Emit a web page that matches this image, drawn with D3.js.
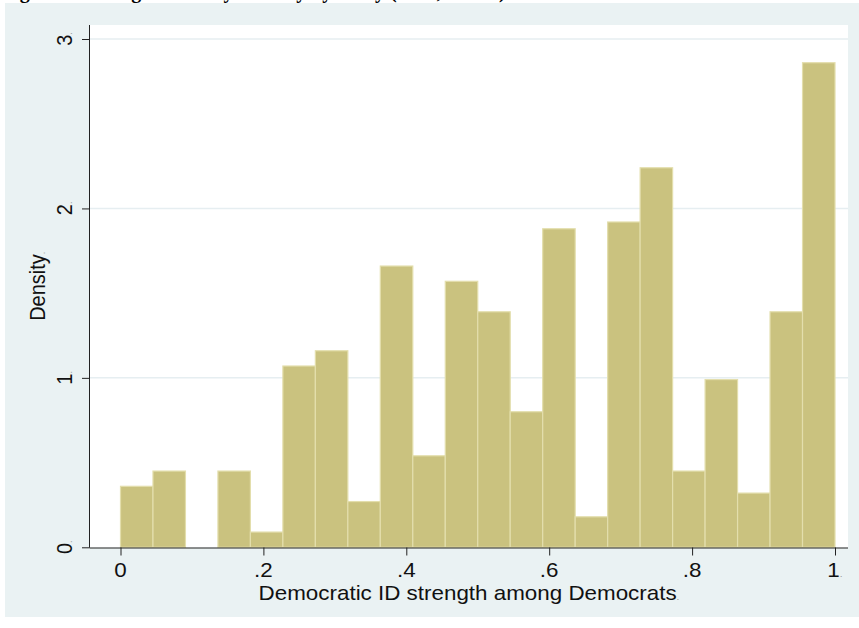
<!DOCTYPE html>
<html>
<head>
<meta charset="utf-8">
<script src="https://cdn.jsdelivr.net/npm/d3@7"></script>
<style>
  body { margin: 0; background: #ffffff; }
  svg { display: block; }
</style>
</head>
<body>
<div id="chart"></div>
<script>
// histogram bins (width 1/22) and density heights
const binStarts = d3.range(22).map((i) => i / 22);
const densities = [
  0.36, 0.45, 0, 0.45, 0.09, 1.07, 1.16, 0.27, 1.66, 0.54, 1.57,
  1.39, 0.80, 1.88, 0.18, 1.92, 2.24, 0.45, 0.99, 0.32, 1.39, 2.86,
];
const xTicks = [0, 0.2, 0.4, 0.6, 0.8, 1];
const xTickLabels = ["0", ".2", ".4", ".6", ".8", "1"];
const yTicks = [0, 1, 2, 3];
const yTickLabels = ["0", "1", "2", "3"];

const width = 859,
  height = 628;
const plot = { left: 90, right: 848, top: 25, bottom: 547.5 };
const font = "'Liberation Sans', Arial, sans-serif";
const fontSize = "20px";
const stretch = 1.12; // text in the picture is a little wider than tall

const svg = d3
  .select("#chart")
  .append("svg")
  .attr("width", width)
  .attr("height", height);

// title, cut off above the visible area
svg
  .append("text")
  .attr("x", 2)
  .attr("y", -2)
  .style("font-family", "'Liberation Serif', serif")
  .style("font-weight", "bold")
  .style("font-size", "20px")
  .attr("fill", "#000")
  .text("Figure 3: Strength of Party Identity by Party (2008, ANES)");

// outer graph region
svg
  .append("rect")
  .attr("x", 5)
  .attr("y", 3)
  .attr("width", width - 5)
  .attr("height", 614)
  .attr("fill", "#eaf2f3");

// plot region
svg
  .append("rect")
  .attr("x", plot.left)
  .attr("y", plot.top)
  .attr("width", plot.right - plot.left)
  .attr("height", plot.bottom - plot.top)
  .attr("fill", "#ffffff");

const x = d3.scaleLinear().domain([0, 1]).range([120.5, 835]);
const y = d3.scaleLinear().domain([0, 3]).range([547.3, 39]);

// gridlines
svg
  .append("g")
  .selectAll("line")
  .data(yTicks.filter((d) => d > 0))
  .join("line")
  .attr("x1", plot.left)
  .attr("x2", plot.right)
  .attr("y1", (d) => y(d))
  .attr("y2", (d) => y(d))
  .attr("stroke", "#e6eef1")
  .attr("stroke-width", 1.5);

// bars
const binW = 1 / 22;
svg
  .append("g")
  .selectAll("rect")
  .data(binStarts.map((b, i) => ({ b, d: densities[i] })).filter((o) => o.d > 0))
  .join("rect")
  .attr("x", (o) => x(o.b))
  .attr("width", (o) => x(o.b + binW) - x(o.b))
  .attr("y", (o) => y(o.d))
  .attr("height", (o) => y(0) - y(o.d))
  .attr("fill", "#cac27f")
  .attr("stroke", "#e3deac")
  .attr("stroke-width", 1.2);

// small grey dot that trails some labels in the original
function addLabel(sel, txt, dot) {
  sel.text(txt);
  if (dot) {
    sel.append("tspan").style("font-size", "9px").attr("fill", "#999").text(".");
  }
}

// axes
const xAxis = d3
  .axisBottom(x)
  .tickValues(xTicks)
  .tickFormat("")
  .tickSize(8);

const gx = svg
  .append("g")
  .attr("transform", `translate(0, ${plot.bottom})`)
  .call(xAxis);
gx.select(".domain")
  .attr("d", `M${plot.left},0.5H${plot.right}`)
  .attr("stroke", "#222");
gx.selectAll(".tick line").attr("stroke", "#222");

svg
  .append("g")
  .selectAll("text")
  .data(xTicks)
  .join("text")
  .attr("transform", (d) => `translate(${x(d)}, 577) scale(${stretch}, 1)`)
  .attr("text-anchor", "middle")
  .style("font-family", font)
  .style("font-size", fontSize)
  .attr("fill", "#111")
  .each(function (d, i) {
    addLabel(d3.select(this), xTickLabels[i], d === 1);
  });

const yAxis = d3.axisLeft(y).tickValues(yTicks).tickFormat("").tickSize(8);

const gy = svg
  .append("g")
  .attr("transform", `translate(${plot.left}, 0)`)
  .call(yAxis);
gy.select(".domain")
  .attr("d", `M-0.5,${plot.top}V${plot.bottom}`)
  .attr("stroke", "#222");
gy.selectAll(".tick line").attr("stroke", "#222");

// rotated y tick labels
svg
  .append("g")
  .selectAll("text")
  .data(yTicks)
  .join("text")
  .attr("transform", (d) => `translate(72, ${y(d)}) scale(${stretch}, 1) rotate(-90)`)
  .attr("text-anchor", "middle")
  .style("font-family", font)
  .style("font-size", fontSize)
  .attr("fill", "#111")
  .each(function (d, i) {
    addLabel(d3.select(this), yTickLabels[i], true);
  });

// axis titles
svg
  .append("text")
  .attr("transform", `translate(${(plot.left + plot.right) / 2}, 600) scale(${stretch}, 1)`)
  .attr("text-anchor", "middle")
  .style("font-family", font)
  .style("font-size", fontSize)
  .attr("fill", "#111")
  .call(addLabel, "Democratic ID strength among Democrats", true);

svg
  .append("text")
  .attr("transform", `translate(45, ${(plot.top + plot.bottom) / 2}) scale(${stretch}, 1) rotate(-90)`)
  .attr("text-anchor", "middle")
  .style("font-family", font)
  .style("font-size", fontSize)
  .attr("fill", "#111")
  .call(addLabel, "Density", true);
</script>
</body>
</html>
